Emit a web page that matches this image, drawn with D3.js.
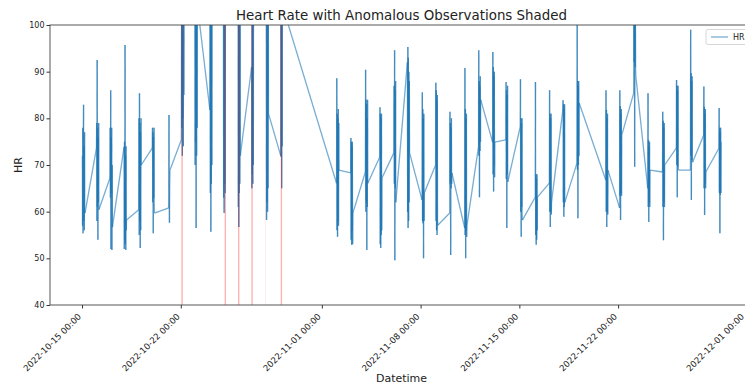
<!DOCTYPE html>
<html><head><meta charset="utf-8">
<script src="https://cdn.jsdelivr.net/npm/d3@7"></script>
<style>body{margin:0;background:#fff} text{font-family:"DejaVu Sans",sans-serif;fill:#222}</style>
</head><body><svg id="c" width="745" height="385"></svg>
<script>
// ---- data ----
const clusterStarts = [
 "2022-10-15 00:30","2022-10-16 00:30","2022-10-16 23:30","2022-10-17 23:30","2022-10-19 00:30","2022-10-19 23:30","2022-10-21 03:30",
 "2022-10-22 01:00","2022-10-23 00:00","2022-10-24 01:30","2022-10-25 00:30","2022-10-26 01:30","2022-10-27 00:30","2022-10-28 01:30","2022-10-29 02:00",
 "2022-11-02 01:00","2022-11-03 01:00","2022-11-04 02:00","2022-11-05 02:30","2022-11-06 02:30","2022-11-07 01:30","2022-11-08 02:30","2022-11-09 01:30",
 "2022-11-10 01:30","2022-11-11 03:00","2022-11-12 02:30","2022-11-13 02:30","2022-11-14 01:00","2022-11-15 01:30","2022-11-16 03:00","2022-11-17 03:00",
 "2022-11-18 02:00","2022-11-19 02:00","2022-11-21 03:00","2022-11-22 02:30","2022-11-23 02:30","2022-11-24 02:30","2022-11-25 03:30","2022-11-26 03:00",
 "2022-11-27 03:00","2022-11-28 01:30","2022-11-29 03:30"
];
const clusterValues = [
 [72,57,78,55.4,76,82.9,58,74,56,77,60,59.7],
 [73.6,79,58,92.5,61,78,54,76,62,79,60.4],
 [67.2,78,63,86,52,76,64,78,51.8,70,56.7],
 [73.9,52,75,54,95.7,53,72,51.8,74,56,58.2],
 [60.4,80,55,85.4,58,79,52.2,77,56,80,70],
 [73.6,78,62,77,55.4,76,63,78,62,59.7],
 [60.8,80.7,62,57.6,66,68.9],
 [75.4,110,78,115,72,112,80,118,74,110,85,106],
 [106,70,112,75,118,56.5,110,72,115,78,104.5],
 [81.8,110,64,115,55.7,112,66,118,70,108,105],
 [105,63,115,59.7,110,66,118,64,108,104],
 [104,61,112,56.7,115,64,110,66,112,72],
 [91,65,112,68,115,66,118,70,110,105],
 [110,58.2,115,62,112,60,118,65,110,81],
 [72,115,71.7,112,65,118,74,110,104],
 [66.1,88.6,56,81,54.6,80,58,82,57,79,68.9],
 [68.3,75.8,54,75,52.9,74,56,75,53,59.7],
 [68.5,90.4,60,84,62,83,51.8,80,61,84,66.1],
 [71.7,82.4,53,81,52.2,80,55,81,56,67.2],
 [72.6,87,66,94.6,49.6,86,65,88,62],
 [92,60,95.3,56.5,93,58,90,62,88,72.6],
 [62.5,85.6,58,82,57.5,80,50,81,58,64],
 [70,87.6,58,86,56,84,55,85,58,57.1],
 [59.7,81.4,66,79,50.7,78,65,80,66,68.3],
 [56.5,90.8,55,82,50,80,56,81,54.6,57],
 [73.9,94.6,72,88,63.1,87,73,89,75,84],
 [74.9,94.2,68,91,64.3,89,70,90,67.4,74.9],
 [75.4,87.8,67,86,56.5,85,68,87,66.4],
 [78.2,88.4,60,80,54.6,79,61,80,59.4,58.2],
 [63.1,87.8,55,68,52.9,67,54,68,56,63.1],
 [66.1,86,60,81,56.7,80,60,81,59.4,62],
 [81.8,83.9,62,83,58.9,82,61,83,62],
 [70.4,100.5,69,88,58.6,87,70,88,72,83.3],
 [66.8,86,60,81.8,56.7,80,60,81,59.4,68.9],
 [60.8,86,63.4,82.6,58.2,81,64,82,63.4,76.4],
 [85.4,104,92,106,69.6,103,91,105,90.5,88.9],
 [65,85.4,61,75.3,57.8,74,62,75,61,68.9],
 [68.5,81.4,61,79.5,53.9,78,62,79,61,70],
 [73.6,88.2,70,87,63.1,86,69.6,87,70,68.9],
 [68.9,99,72,89.7,62.5,88,71,89,71,70.6],
 [76.4,86.8,65,82.5,59.3,81,66,82,65,68.5],
 [73.6,82.2,64,78,55.4,77,63.6,78,64,75]
];
const stepMinutes = 25;
const anomalyStarts = ["2022-10-22 01:00","2022-10-25 02:40","2022-10-26 01:20","2022-10-27 00:05","2022-10-27 23:55","2022-10-29 02:00"];
const anomalyEnds   = ["2022-10-22 03:20","2022-10-25 05:00","2022-10-26 03:40","2022-10-27 02:25","2022-10-28 00:55","2022-10-29 04:20"];
const anomalyAlpha  = [0.3,0.3,0.3,0.3,0.12,0.3];
const xTickLabels = ["2022-10-15 00:00","2022-10-22 00:00","2022-11-01 00:00","2022-11-08 00:00","2022-11-15 00:00","2022-11-22 00:00","2022-12-01 00:00"];
const yTickValues = [40,50,60,70,80,90,100];

// ---- chart ----
const parse = d3.timeParse("%Y-%m-%d %H:%M");
const fmt = d3.timeFormat("%Y-%m-%d %H:%M");
const points = [];
clusterStarts.forEach((s,i)=>{
  const t0 = parse(s);
  clusterValues[i].forEach((v,j)=>points.push({t:d3.timeMinute.offset(t0, j*stepMinutes), v}));
});
const L=50, R=753, T=25, B=305;
const x = d3.scaleTime().domain([parse("2022-10-12 17:30"), parse("2022-12-01 13:30")]).range([L,R]);
const y = d3.scaleLinear().domain([40,100]).range([B,T]);
const svg = d3.select("#c");
svg.append("defs").append("clipPath").attr("id","clip").append("rect")
  .attr("x",L).attr("y",T).attr("width",R-L).attr("height",B-T);
const plot = svg.append("g").attr("clip-path","url(#clip)");
const segs = d3.pairs(points);
plot.selectAll("line.hr").data(segs).join("line").attr("class","hr")
  .attr("x1",d=>x(d[0].t)).attr("y1",d=>y(d[0].v))
  .attr("x2",d=>x(d[1].t)).attr("y2",d=>y(d[1].v))
  .attr("stroke","#1f77b4").attr("stroke-opacity",0.6).attr("stroke-width",1.3);
plot.selectAll("rect.an").data(anomalyStarts).join("rect").attr("class","an")
  .attr("x",(d)=>x(parse(d))).attr("y",T)
  .attr("width",(d,i)=>x(parse(anomalyEnds[i]))-x(parse(d))).attr("height",B-T)
  .attr("fill","red").attr("fill-opacity",(d,i)=>anomalyAlpha[i]);

// axes
const xAxis = d3.axisBottom(x).tickValues(xTickLabels.map(parse)).tickFormat(fmt).tickSize(3.5).tickPadding(2);
const gx = svg.append("g").attr("transform",`translate(0,${B})`).call(xAxis);
gx.select(".domain").remove();
gx.selectAll(".tick line").attr("stroke","#333");
gx.selectAll(".tick text").attr("font-size",8.6).attr("text-anchor","end")
  .attr("x",0).attr("y",0).attr("dy","0.35em")
  .attr("transform","translate(-3,10) rotate(-45)");
const yAxis = d3.axisLeft(y).tickValues(yTickValues).tickSize(3.5).tickPadding(2);
const gy = svg.append("g").attr("transform",`translate(${L},0)`).call(yAxis);
gy.select(".domain").remove();
gy.selectAll(".tick line").attr("stroke","#333");
gy.selectAll(".tick text").attr("font-size",8);
svg.append("rect").attr("x",L).attr("y",T).attr("width",R-L).attr("height",B-T)
  .attr("fill","none").attr("stroke","#444").attr("stroke-width",0.9);

// labels
svg.append("text").attr("x",(L+R)/2).attr("y",20).attr("text-anchor","middle").attr("font-size",13.4).text("Heart Rate with Anomalous Observations Shaded");
svg.append("text").attr("x",(L+R)/2).attr("y",382).attr("text-anchor","middle").attr("font-size",11).text("Datetime");
svg.append("text").attr("transform",`translate(22,${(T+B)/2}) rotate(-90)`).attr("text-anchor","middle").attr("font-size",11).text("HR");

// legend
const lg = svg.append("g");
lg.append("rect").attr("x",706).attr("y",29.5).attr("width",44).attr("height",15).attr("rx",2)
  .attr("fill","#fff").attr("fill-opacity",0.8).attr("stroke","#ccc").attr("stroke-width",0.8);
lg.append("line").attr("x1",711).attr("x2",728).attr("y1",37).attr("y2",37)
  .attr("stroke","#1f77b4").attr("stroke-opacity",0.6).attr("stroke-width",1.3);
lg.append("text").attr("x",733).attr("y",40).attr("font-size",8).text("HR");
</script></body></html>
